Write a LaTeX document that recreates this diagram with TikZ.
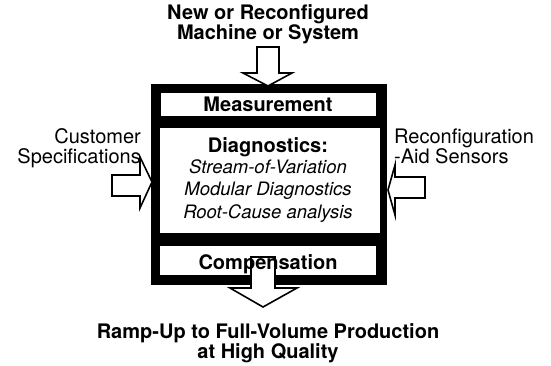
\documentclass[tikz,border=0pt]{standalone}
\usepackage{fontspec}
\setmainfont{TeX Gyre Heros}
\begin{document}
\begin{tikzpicture}[x=1pt,y=-1pt,
  blockarrow/.style={draw=black, fill=white, line width=1.6pt, line join=miter},
  panel/.style={fill=white},
  boldlabel/.style={font=\bfseries\fontsize{20}{20}\selectfont, inner sep=0pt, anchor=base},
  itlabel/.style={font=\itshape\fontsize{18.5}{22}\selectfont, inner sep=0pt, anchor=base},
  sidelabel/.style={font=\fontsize{20}{20}\selectfont, inner sep=0pt}]
\path[use as bounding box] (0,0) rectangle (551,366);

% heavy black frame with its three white panels
\fill[black] (151,84) rectangle (387,285);
\fill[panel] (161,93) rectangle (376,116);
\fill[panel] (160,128) rectangle (380,233);
\fill[panel] (160,246) rectangle (376,275);

% hollow block arrows
\draw[blockarrow] (257,47) -- (279,47) -- (279,73) -- (292,73) -- (268,86)
  -- (243,73) -- (257,73) -- cycle;
\draw[blockarrow] (251,257) -- (275,257) -- (275,288) -- (297,288) -- (263,307)
  -- (230,288) -- (251,288) -- cycle;
\draw[blockarrow] (112,175) -- (140,175) -- (140,157) -- (152,182) -- (140,208)
  -- (140,196) -- (112,196) -- cycle;
\draw[blockarrow] (425,177) -- (395,177) -- (395,165) -- (388,190) -- (395,215)
  -- (395,198) -- (425,198) -- cycle;

% input from above
\node[boldlabel] (src1) at (268,20) {New or Reconfigured};
\node[boldlabel] (src2) at (268,40) {Machine or System};

% panels
\node[boldlabel] (meas) at (268,112) {Measurement};
\node[boldlabel] (diag) at (268,153) {Diagnostics:};
\node[itlabel] (sov) at (268,174) {Stream-of-Variation};
\node[itlabel] (mod) at (268,196) {Modular Diagnostics};
\node[itlabel] (rca) at (268,218) {Root-Cause analysis};
\node[boldlabel] (comp) at (268,269) {Compensation};

% side inputs
\node[sidelabel, anchor=base east] (cust1) at (141,144) {Customer};
\node[sidelabel, anchor=base east] (cust2) at (141,164) {Specifications};
\node[sidelabel, anchor=base west] (sens1) at (394,144) {Reconfiguration};
\node[sidelabel, anchor=base west] (sens2) at (394,164) {-Aid Sensors};

% output below
\node[boldlabel] (out1) at (268,338) {Ramp-Up to Full-Volume Production};
\node[boldlabel] (out2) at (268,358) {at High Quality};
\end{tikzpicture}
\end{document}
